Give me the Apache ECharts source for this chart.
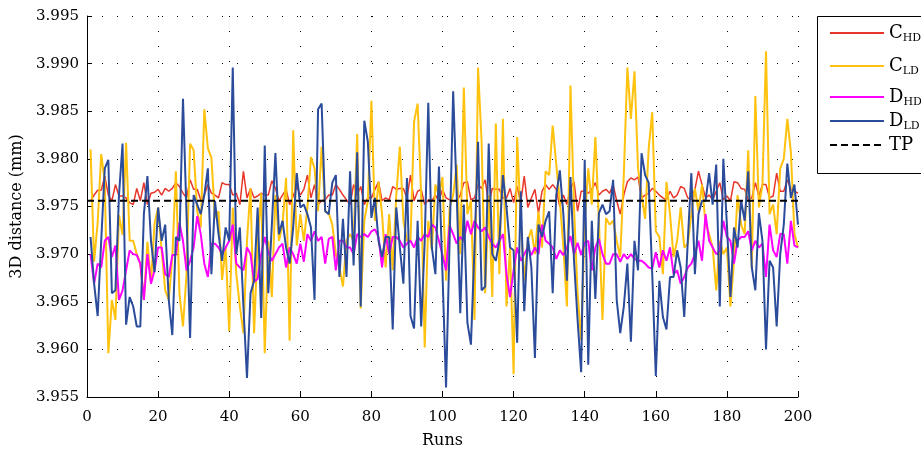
<!DOCTYPE html>
<html>
<head>
<meta charset="utf-8">
<script src="https://cdn.jsdelivr.net/npm/echarts@6/dist/echarts.min.js"></script>
<style>html,body{margin:0;padding:0;background:#fff}#c{width:921px;height:452px}</style>
</head>
<body>
<div id="c"></div>
<script>
// ---- data ----
const seriesNames = ['C_HD', 'C_LD', 'D_HD', 'D_LD', 'TP'];
const xTicks = [0, 20, 40, 60, 80, 100, 120, 140, 160, 180, 200];
const yTicks = ['3.955', '3.960', '3.965', '3.970', '3.975', '3.980', '3.985', '3.990', '3.995'];
const tpValue = 3.9756;

const cHD = [
3.9756,3.9762,3.9767,3.9767,3.9782,3.9762,3.9756,3.9773,3.9761,3.9761,3.9759,3.9754,3.9752,3.9769,3.9756,3.9775,3.9752,3.9764,3.9765,3.9768,
3.9762,3.9769,3.9766,3.9769,3.9775,3.9771,3.9764,3.9759,3.9778,3.9768,3.9768,3.9757,3.9762,3.9773,3.9764,3.9762,3.9759,3.9775,3.9773,3.9773,
3.9762,3.9764,3.9752,3.9787,3.9759,3.9769,3.9759,3.9761,3.9764,3.9762,3.9762,3.9777,3.9769,3.9756,3.9762,3.9768,3.9752,3.9761,3.9771,3.9762,
3.9768,3.9783,3.9759,3.9773,3.9752,3.9756,3.9757,3.9762,3.9762,3.9773,3.9768,3.9762,3.9757,3.9752,3.9773,3.9762,3.9771,3.9752,3.9759,3.9759,
3.9768,3.9776,3.9756,3.9759,3.9757,3.9771,3.9768,3.9769,3.9769,3.9759,3.9783,3.9756,3.9766,3.9768,3.9752,3.9757,3.9756,3.9762,3.9756,3.9768,
3.9759,3.9757,3.9756,3.9756,3.9762,3.9775,3.9776,3.9757,3.9759,3.9773,3.9769,3.9778,3.9752,3.9769,3.9768,3.9768,3.9759,3.9759,3.9769,3.9754,
3.9771,3.9754,3.9782,3.9749,3.9759,3.9768,3.9743,3.9766,3.9773,3.9768,3.9773,3.9768,3.9750,3.9762,3.9752,3.9769,3.9776,3.9745,3.9766,3.9766,
3.9764,3.9768,3.9775,3.9762,3.9766,3.9768,3.9764,3.9773,3.9756,3.9742,3.9762,3.9776,3.9780,3.9778,3.9781,3.9759,3.9762,3.9764,3.9769,3.9766,
3.9762,3.9759,3.9757,3.9766,3.9759,3.9762,3.9771,3.9769,3.9759,3.9757,3.9768,3.9787,3.9773,3.9759,3.9762,3.9757,3.9766,3.9775,3.9757,3.9761,
3.9756,3.9776,3.9775,3.9769,3.9768,3.9757,3.9759,3.9775,3.9761,3.9773,3.9773,3.9759,3.9761,3.9785,3.9766,3.9766,3.9778,3.9768,3.9766,3.9764
];

const cLD = [
3.9810,3.9692,3.9733,3.9805,3.9776,3.9596,3.9652,3.9631,3.9741,3.9720,3.9817,3.9714,3.9714,3.9700,3.9690,3.9652,3.9713,3.9670,3.9732,3.9749,
3.9704,3.9662,3.9652,3.9697,3.9787,3.9659,3.9624,3.9679,3.9816,3.9809,3.9745,3.9728,3.9852,3.9811,3.9801,3.9738,3.9745,3.9673,3.9707,3.9619,
3.9749,3.9679,3.9645,3.9617,3.9714,3.9769,3.9617,3.9714,3.9764,3.9596,3.9714,3.9655,3.9762,3.9714,3.9731,3.9780,3.9609,3.9830,3.9709,3.9742,
3.9714,3.9749,3.9802,3.9790,3.9745,3.9813,3.9745,3.9743,3.9731,3.9700,3.9686,3.9666,3.9714,3.9721,3.9714,3.9826,3.9643,3.9735,3.9756,3.9861,
3.9735,3.9776,3.9742,3.9686,3.9742,3.9683,3.9762,3.9813,3.9735,3.9714,3.9714,3.9839,3.9858,3.9762,3.9602,3.9735,3.9704,3.9773,3.9762,3.9781,
3.9672,3.9749,3.9762,3.9794,3.9700,3.9875,3.9742,3.9756,3.9631,3.9896,3.9818,3.9659,3.9762,3.9655,3.9837,3.9679,3.9842,3.9645,3.9707,3.9574,
3.9823,3.9735,3.9672,3.9714,3.9726,3.9700,3.9745,3.9707,3.9787,3.9783,3.9835,3.9794,3.9756,3.9707,3.9645,3.9877,3.9749,3.9659,3.9610,3.9735,
3.9790,3.9752,3.9823,3.9735,3.9631,3.9738,3.9731,3.9735,3.9714,3.9697,3.9783,3.9896,3.9842,3.9892,3.9790,3.9762,3.9737,3.9811,3.9849,3.9724,
3.9718,3.9679,3.9776,3.9742,3.9697,3.9714,3.9749,3.9707,3.9711,3.9742,3.9769,3.9745,3.9773,3.9731,3.9721,3.9707,3.9662,3.9714,3.9700,3.9707,
3.9645,3.9693,3.9762,3.9731,3.9721,3.9809,3.9686,3.9866,3.9749,3.9773,3.9913,3.9742,3.9752,3.9721,3.9790,3.9800,3.9842,3.9807,3.9721,3.9707
];

const dHD = [
3.9700,3.9669,3.9690,3.9686,3.9714,3.9718,3.9697,3.9709,3.9652,3.9662,3.9683,3.9704,3.9700,3.9699,3.9690,3.9652,3.9700,3.9669,3.9683,3.9707,
3.9707,3.9679,3.9676,3.9699,3.9699,3.9733,3.9714,3.9683,3.9693,3.9707,3.9740,3.9721,3.9690,3.9676,3.9711,3.9711,3.9707,3.9700,3.9707,3.9714,
3.9731,3.9690,3.9686,3.9683,3.9707,3.9700,3.9671,3.9674,3.9700,3.9718,3.9702,3.9693,3.9700,3.9707,3.9711,3.9686,3.9707,3.9700,3.9690,3.9711,
3.9692,3.9721,3.9714,3.9724,3.9714,3.9718,3.9690,3.9716,3.9718,3.9683,3.9714,3.9714,3.9707,3.9707,3.9700,3.9721,3.9718,3.9721,3.9718,3.9724,
3.9726,3.9718,3.9686,3.9721,3.9700,3.9718,3.9718,3.9714,3.9707,3.9711,3.9714,3.9707,3.9718,3.9714,3.9721,3.9718,3.9731,3.9728,3.9714,3.9699,
3.9683,3.9730,3.9721,3.9711,3.9718,3.9714,3.9735,3.9721,3.9735,3.9728,3.9724,3.9728,3.9718,3.9711,3.9707,3.9714,3.9721,3.9679,3.9655,3.9683,
3.9707,3.9693,3.9700,3.9707,3.9699,3.9707,3.9700,3.9731,3.9714,3.9711,3.9707,3.9695,3.9704,3.9699,3.9707,3.9719,3.9700,3.9712,3.9699,3.9712,
3.9714,3.9683,3.9707,3.9716,3.9700,3.9690,3.9690,3.9700,3.9700,3.9692,3.9700,3.9695,3.9700,3.9695,3.9693,3.9693,3.9690,3.9686,3.9685,3.9702,
3.9686,3.9704,3.9693,3.9707,3.9679,3.9683,3.9669,3.9676,3.9686,3.9690,3.9700,3.9714,3.9693,3.9742,3.9714,3.9707,3.9700,3.9704,3.9735,3.9718,
3.9714,3.9690,3.9714,3.9718,3.9718,3.9724,3.9704,3.9714,3.9707,3.9711,3.9676,3.9731,3.9704,3.9697,3.9721,3.9721,3.9690,3.9735,3.9709,3.9707
];

const dLD = [
3.9718,3.9669,3.9635,3.9714,3.9790,3.9799,3.9659,3.9662,3.9762,3.9816,3.9626,3.9655,3.9645,3.9624,3.9624,3.9742,3.9782,3.9714,3.9681,3.9749,
3.9714,3.9731,3.9652,3.9615,3.9718,3.9714,3.9863,3.9742,3.9612,3.9762,3.9752,3.9742,3.9762,3.9790,3.9679,3.9756,3.9721,3.9693,3.9728,3.9714,
3.9896,3.9700,3.9728,3.9645,3.9570,3.9659,3.9672,3.9749,3.9633,3.9814,3.9659,3.9731,3.9806,3.9721,3.9735,3.9707,3.9690,3.9728,3.9785,3.9749,
3.9752,3.9742,3.9728,3.9652,3.9852,3.9858,3.9745,3.9742,3.9775,3.9783,3.9676,3.9737,3.9676,3.9787,3.9688,3.9807,3.9645,3.9840,3.9818,3.9738,
3.9759,3.9714,3.9697,3.9718,3.9718,3.9621,3.9749,3.9707,3.9669,3.9780,3.9635,3.9622,3.9735,3.9624,3.9714,3.9859,3.9707,3.9679,3.9792,3.9679,
3.9560,3.9714,3.9871,3.9762,3.9638,3.9752,3.9628,3.9605,3.9707,3.9818,3.9662,3.9666,3.9816,3.9700,3.9693,3.9714,3.9783,3.9749,3.9707,3.9704,
3.9607,3.9766,3.9640,3.9718,3.9686,3.9591,3.9731,3.9718,3.9735,3.9745,3.9659,3.9762,3.9788,3.9742,3.9672,3.9781,3.9693,3.9631,3.9576,3.9799,
3.9584,3.9735,3.9653,3.9743,3.9752,3.9742,3.9745,3.9778,3.9652,3.9617,3.9645,3.9690,3.9608,3.9714,3.9683,3.9806,3.9783,3.9775,3.9679,3.9572,
3.9672,3.9634,3.9621,3.9676,3.9676,3.9704,3.9686,3.9634,3.9714,3.9785,3.9679,3.9742,3.9756,3.9756,3.9785,3.9752,3.9794,3.9645,3.9800,3.9731,
3.9655,3.9728,3.9707,3.9756,3.9735,3.9787,3.9686,3.9662,3.9743,3.9714,3.9600,3.9693,3.9686,3.9624,3.9700,3.9731,3.9795,3.9759,3.9773,3.9731
];

// ---- chart ----
const FONT = 'DejaVu Serif';
const colors = ['#E8352B', '#FFC20E', '#FF00FF', '#2B4C9B', '#000000'];
const pairs = arr => arr.map((v, i) => [i + 1, v]);

const legendLabel = {
  C_HD: '{m|C}{s|HD}', C_LD: '{m|C}{s|LD}', D_HD: '{m|D}{s|HD}', D_LD: '{m|D}{s|LD}', TP: '{m|TP}'
};
const richText = {
  m: { fontFamily: FONT, fontSize: 18, lineHeight: 22, verticalAlign: 'middle', color: '#000' },
  s: { fontFamily: FONT, fontSize: 11, lineHeight: 12, verticalAlign: 'bottom', padding: [17, 0, 0, 0], color: '#000' }
};
const legendCenters = [34, 67, 98, 122, 147];
const legends = seriesNames.map((n, k) => ({
  data: [n],
  orient: 'vertical',
  left: 829,
  top: legendCenters[k] - (n === 'TP' ? 11 : 18),
  itemWidth: 54,
  itemHeight: 14,
  padding: 0,
  selectedMode: false,
  itemStyle: { color: 'rgba(0,0,0,0)', borderWidth: 0, opacity: 0 },
  formatter: nm => legendLabel[nm],
  textStyle: { fontFamily: FONT, rich: richText }
}));

const chart = echarts.init(document.getElementById('c'), null, { renderer: 'canvas' });
const dotted = { color: '#000', width: 1, type: [1, 14] };
chart.setOption({
  animation: false,
  backgroundColor: '#fff',
  graphic: [{
    type: 'rect', z: 1,
    shape: { x: 817.5, y: 16.5, width: 130, height: 157 },
    style: { fill: '#fff', stroke: '#000', lineWidth: 1 }
  }],
  legend: legends,
  grid: { left: 87, right: 123, top: 16, bottom: 55, containLabel: false, outerBoundsMode: 'none' },
  xAxis: {
    type: 'value', min: 0, max: 200, interval: 20,
    name: 'Runs', nameLocation: 'middle', nameGap: 36,
    nameTextStyle: { fontFamily: FONT, fontSize: 16, color: '#000' },
    axisLine: { show: true, onZero: false, lineStyle: { color: '#000', width: 1 } },
    axisTick: { show: true, inside: true, length: 5, lineStyle: { color: '#000' } },
    axisLabel: { fontFamily: FONT, fontSize: 15, color: '#000', margin: 13,
      formatter: v => (xTicks.includes(v) ? String(v) : '') },
    splitLine: { show: true, lineStyle: dotted }
  },
  yAxis: {
    type: 'value', min: 3.955, max: 3.995, interval: 0.005,
    name: '3D distance (mm)', nameLocation: 'middle', nameGap: 62,
    nameTextStyle: { fontFamily: FONT, fontSize: 16, color: '#000' },
    axisLine: { show: true, lineStyle: { color: '#000', width: 1 } },
    axisTick: { show: true, inside: true, length: 5, lineStyle: { color: '#000' } },
    axisLabel: { fontFamily: FONT, fontSize: 15, color: '#000', margin: 8,
      formatter: v => { const s = v.toFixed(3); return yTicks.includes(s) ? s : ''; } },
    splitLine: { show: true, lineStyle: dotted }
  },
  series: [
    { name: 'C_HD', type: 'line', data: pairs(cHD), symbol: 'none', color: colors[0], lineStyle: { width: 1.5, color: colors[0] }, z: 2 },
    { name: 'C_LD', type: 'line', data: pairs(cLD), symbol: 'none', color: colors[1], lineStyle: { width: 2, color: colors[1] }, z: 2 },
    { name: 'D_HD', type: 'line', data: pairs(dHD), symbol: 'none', color: colors[2], lineStyle: { width: 2, color: colors[2] }, z: 2 },
    { name: 'D_LD', type: 'line', data: pairs(dLD), symbol: 'none', color: colors[3], lineStyle: { width: 2, color: colors[3] }, z: 2 },
    { name: 'TP', type: 'line', data: [[0, tpValue], [200, tpValue]], symbol: 'none', color: colors[4],
      lineStyle: { width: 2, color: colors[4], type: [7, 4] }, z: 3 }
  ]
});
</script>
</body>
</html>
